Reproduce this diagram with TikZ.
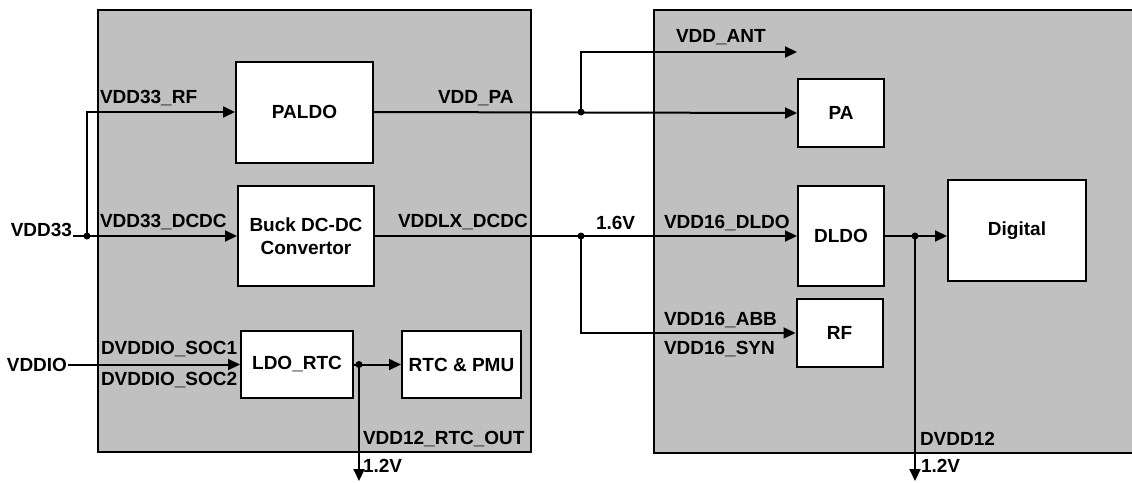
\documentclass[tikz,border=0pt]{standalone}
\usepackage{fontspec}
\setmainfont{Liberation Sans}
\usepackage{xcolor}
\usetikzlibrary{arrows.meta, positioning}
\definecolor{chipgray}{RGB}{192,192,192}

\begin{document}
\begin{tikzpicture}[x=1pt, y=-1pt, line width=2pt,
    every node/.style={font=\bfseries\fontsize{19}{22}\selectfont},
    khoi/.style={draw, fill=white, line width=2pt, align=center, inner sep=0pt},
    muiten/.style={-{Triangle[length=12pt, width=11pt]}},
    nhan/.style={anchor=west, inner sep=0pt}]
    \clip (0,0) rectangle (1132,482);

    % 1. Hai khối chip
    \draw[fill=chipgray] (98,10) rectangle (531,452);
    \draw[fill=chipgray] (654,10) rectangle (1150,453);

    % 2. Các khối chức năng
    \node[khoi, minimum width=137, minimum height=101] (paldo) at (304.5,112) {PALDO};
    \node[khoi, minimum width=136, minimum height=100] (buck) at (306,236) {Buck DC-DC\\[1pt]Convertor};
    \node[khoi, minimum width=112, minimum height=67] (ldo) at (297,364.5) {LDO\_RTC};
    \node[khoi, minimum width=119, minimum height=67] (rtc) at (461.5,364.5) {RTC \& PMU};
    \node[khoi, minimum width=86, minimum height=68] (pa) at (841,113) {PA};
    \node[khoi, minimum width=86, minimum height=100] (dldo) at (841,236) {DLDO};
    \node[khoi, minimum width=86, minimum height=68] (rf) at (839.5,333) {RF};
    \node[khoi, minimum width=138, minimum height=101] (dig) at (1017,230.5) {Digital};

    % 3. Nguồn vào
    \node[anchor=base east, inner sep=0pt] (vdd33) at (73,236) {VDD33};
    \node[anchor=east, inner sep=0pt] (vddio) at (68,364.5) {VDDIO};

    % 4. Các điểm nối
    \coordinate (j33) at (87,236);
    \coordinate (jpa) at (581,112);
    \coordinate (j16) at (581,236);
    \coordinate (jrtc) at (359,364.5);
    \coordinate (j12) at (915,236);
    \coordinate (ant) at (797,52);
    \coordinate (outrtc) at (359,481);
    \coordinate (out12) at (915,481);

    % 5. Đường nguồn
    \draw (vdd33.base east) -- (j33);
    \draw[muiten] (j33) |- (paldo.west);
    \draw[muiten] (j33) -- (buck.west);
    \draw[muiten] (paldo.east) -- (pa.west);
    \draw[muiten] (jpa) |- (ant);
    \draw[muiten] (buck.east) -- (dldo.west);
    \draw[muiten] (j16) |- (rf.west);
    \draw[muiten] (dldo.east) -- (dldo.east -| dig.west);
    \draw[muiten] (j12) -- (out12);
    \draw[muiten] (vddio) -- (ldo.west);
    \draw[muiten] (ldo.east) -- (rtc.west);
    \draw[muiten] (jrtc) -- (outrtc);
    \foreach \p in {j33, jpa, j16, jrtc, j12}
        \fill (\p) circle (3.5pt);

    % 6. Nhãn
    \node[nhan] at (99,98) {VDD33\_RF};
    \node[nhan] at (99,222) {VDD33\_DCDC};
    \node[nhan] at (100,349) {DVDDIO\_SOC1};
    \node[nhan] at (100,380) {DVDDIO\_SOC2};
    \node[nhan] at (437,98) {VDD\_PA};
    \node[nhan] at (397,222) {VDDLX\_DCDC};
    \node[nhan] at (362,439) {VDD12\_RTC\_OUT};
    \node[nhan] at (362,466) {1.2V};
    \node[nhan] at (675,37) {VDD\_ANT};
    \node[nhan] at (595,223) {1.6V};
    \node[nhan] at (663,223) {VDD16\_DLDO};
    \node[nhan] at (663,320) {VDD16\_ABB};
    \node[nhan] at (663,349) {VDD16\_SYN};
    \node[nhan] at (919,439) {DVDD12};
    \node[nhan] at (920,466) {1.2V};
\end{tikzpicture}
\end{document}
